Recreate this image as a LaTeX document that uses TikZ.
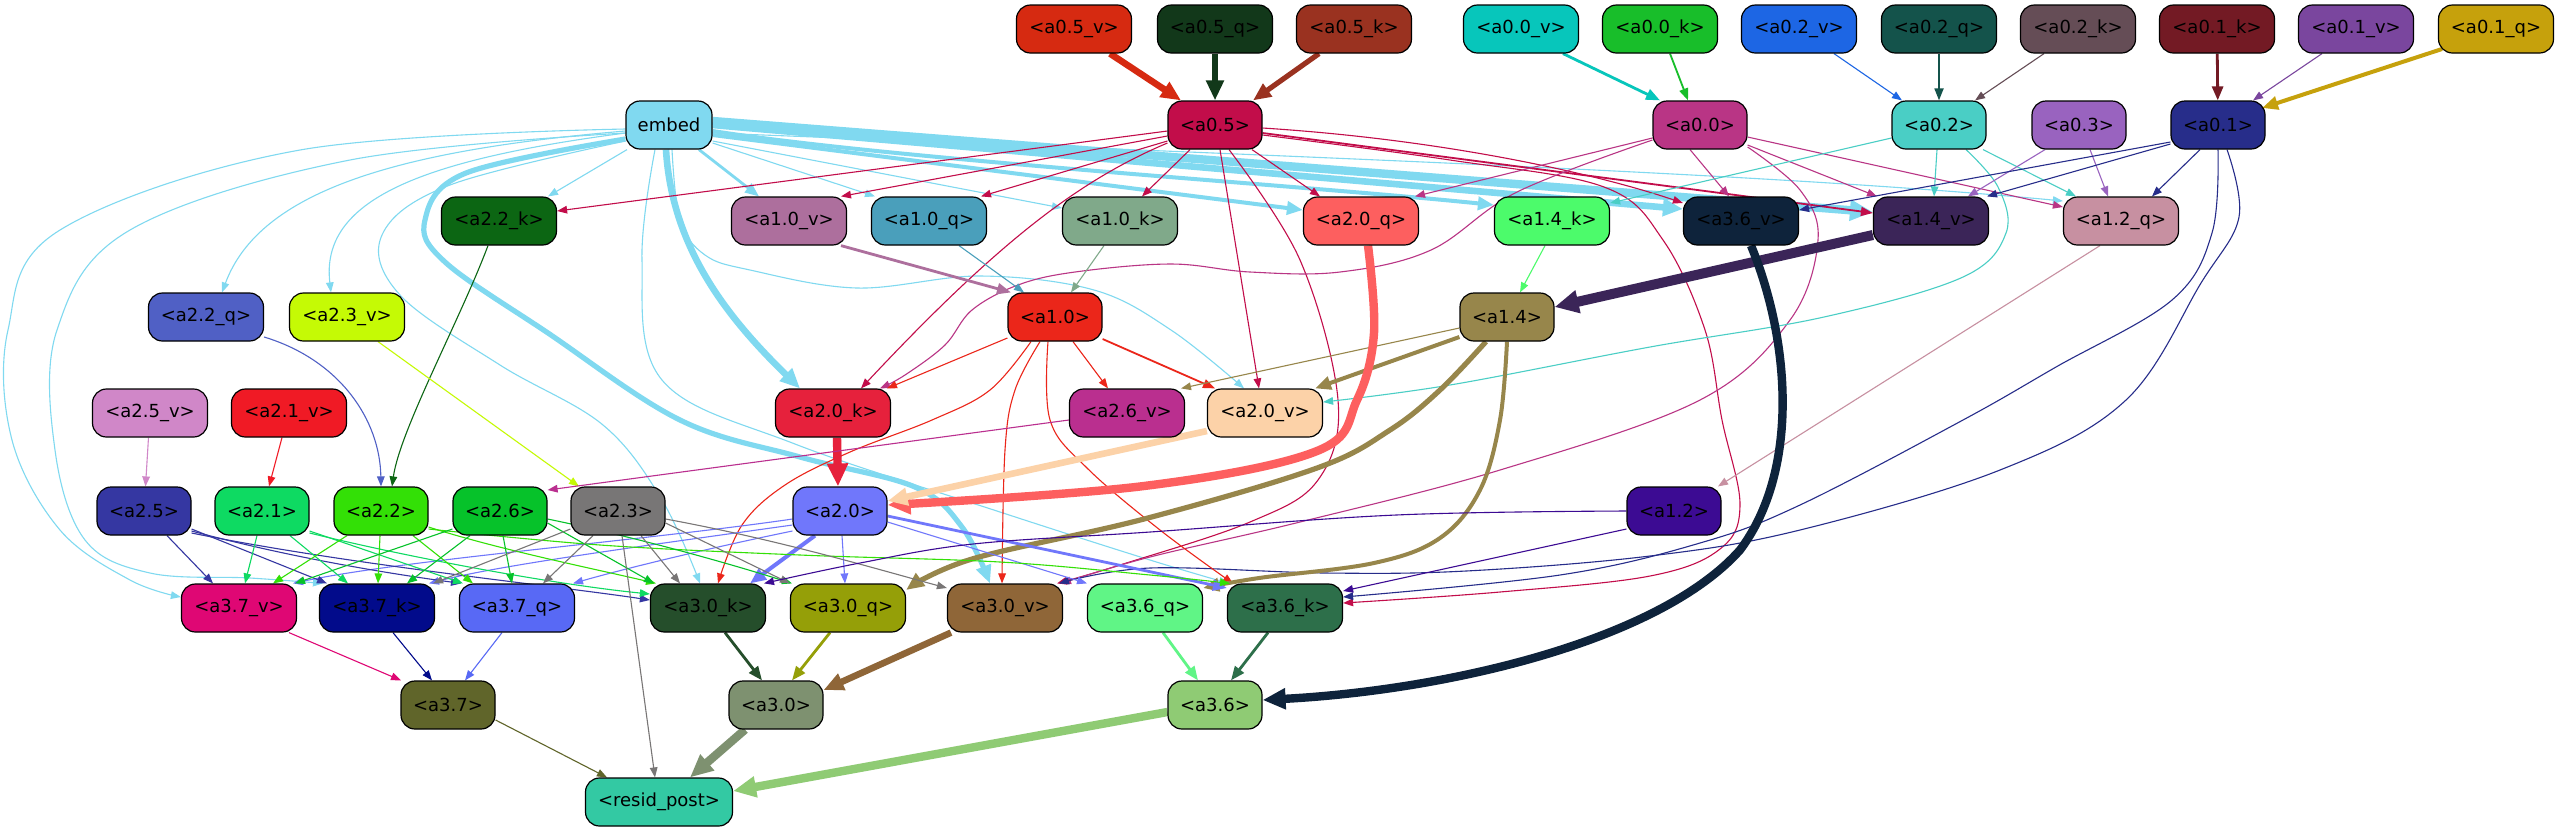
\documentclass[tikz,border=0pt]{standalone}
\usepackage{fontspec}
\setmainfont{DejaVu Sans}
\usetikzlibrary{arrows.meta,calc}
\pgfdeclarelayer{bg}
\pgfsetlayers{bg,main}
\definecolor{cemb}{HTML}{80D9F0}
\definecolor{c05v}{HTML}{D62A11}
\definecolor{c05q}{HTML}{12381A}
\definecolor{c05k}{HTML}{9A3220}
\definecolor{c00v}{HTML}{07C6BB}
\definecolor{c00k}{HTML}{18BE2A}
\definecolor{c02v}{HTML}{1D66E4}
\definecolor{c02q}{HTML}{14534B}
\definecolor{c02k}{HTML}{654D56}
\definecolor{c01k}{HTML}{731A24}
\definecolor{c01v}{HTML}{7A469E}
\definecolor{c01q}{HTML}{C6A10C}
\definecolor{c05}{HTML}{C20D4A}
\definecolor{c00}{HTML}{B93585}
\definecolor{c02}{HTML}{4ACEC5}
\definecolor{c03}{HTML}{9963BF}
\definecolor{c01}{HTML}{272D8A}
\definecolor{c22k}{HTML}{0C6613}
\definecolor{c10v}{HTML}{AD6F9D}
\definecolor{c10q}{HTML}{4A9FBB}
\definecolor{c10k}{HTML}{80A98A}
\definecolor{c20q}{HTML}{FD5F5F}
\definecolor{c14k}{HTML}{4CFB6B}
\definecolor{c36v}{HTML}{0E233B}
\definecolor{c14v}{HTML}{3B2558}
\definecolor{c12q}{HTML}{C790A1}
\definecolor{c22q}{HTML}{5060C5}
\definecolor{c23v}{HTML}{C5FA05}
\definecolor{c10}{HTML}{EB261A}
\definecolor{c14}{HTML}{97864B}
\definecolor{c25v}{HTML}{D087C8}
\definecolor{c21v}{HTML}{F01A25}
\definecolor{c20k}{HTML}{E6213C}
\definecolor{c26v}{HTML}{BA2F8F}
\definecolor{c20v}{HTML}{FCD2A8}
\definecolor{c25}{HTML}{3537A2}
\definecolor{c21}{HTML}{0EDA62}
\definecolor{c22}{HTML}{33E006}
\definecolor{c26}{HTML}{06C22A}
\definecolor{c23}{HTML}{787676}
\definecolor{c20}{HTML}{7077FB}
\definecolor{c12}{HTML}{3C0B93}
\definecolor{c37v}{HTML}{DF0774}
\definecolor{c37k}{HTML}{020B8B}
\definecolor{c37q}{HTML}{5869F5}
\definecolor{c30k}{HTML}{254E2B}
\definecolor{c30q}{HTML}{959F08}
\definecolor{c30v}{HTML}{8F6638}
\definecolor{c36q}{HTML}{60F586}
\definecolor{c36k}{HTML}{2D6F4A}
\definecolor{c37}{HTML}{60652A}
\definecolor{c30}{HTML}{7E9170}
\definecolor{c36}{HTML}{8FCB74}
\definecolor{cres}{HTML}{33C9A3}
\tikzset{
 box/.style={draw=black, line width=0.6pt, rounded corners=7pt, minimum height=24pt, inner sep=0pt, font=\fontsize{9}{11}\selectfont, text=black},
 bw/.style={box, minimum width=57.5pt},
 bn/.style={box, minimum width=47pt},
 ed/.style={draw=#1, line width=0.55pt, -{Triangle[length=5pt,width=3.8pt]}},
 sB/.style={line width=0.9pt, -{Triangle[length=6pt,width=4.5pt]}},
 sC/.style={line width=1.4pt, -{Triangle[length=7pt,width=5.5pt]}},
 sD/.style={line width=2pt, -{Triangle[length=8pt,width=6.5pt]}},
 sE/.style={line width=2.6pt, -{Triangle[length=9pt,width=7.5pt]}},
 sF/.style={line width=3.3pt, -{Triangle[length=10pt,width=8.5pt]}},
 sG/.style={line width=4.2pt, -{Triangle[length=11.5pt,width=10pt]}},
 pl/.style={smooth, tension=0.6}
}
\begin{document}
\begin{tikzpicture}[x=0.5pt,y=-0.5pt]
\useasboundingbox (0,0) rectangle (2559,827);
% nodes
\node[bw, fill=c05v] (a05v) at (1074,29) {<a0.5\_v>};
\node[bw, fill=c05q] (a05q) at (1215,29) {<a0.5\_q>};
\node[bw, fill=c05k] (a05k) at (1354,29) {<a0.5\_k>};
\node[bw, fill=c00v] (a00v) at (1521,29) {<a0.0\_v>};
\node[bw, fill=c00k] (a00k) at (1660,29) {<a0.0\_k>};
\node[bw, fill=c02v] (a02v) at (1799,29) {<a0.2\_v>};
\node[bw, fill=c02q] (a02q) at (1939,29) {<a0.2\_q>};
\node[bw, fill=c02k] (a02k) at (2078,29) {<a0.2\_k>};
\node[bw, fill=c01k] (a01k) at (2217,29) {<a0.1\_k>};
\node[bw, fill=c01v] (a01v) at (2356,29) {<a0.1\_v>};
\node[bw, fill=c01q] (a01q) at (2496,29) {<a0.1\_q>};
\node[box, minimum width=43pt, fill=cemb] (embed) at (669,125) {embed};
\node[bn, fill=c05] (a05) at (1215,125) {<a0.5>};
\node[bn, fill=c00] (a00) at (1700,125) {<a0.0>};
\node[bn, fill=c02] (a02) at (1939,125) {<a0.2>};
\node[bn, fill=c03] (a03) at (2079,125) {<a0.3>};
\node[bn, fill=c01] (a01) at (2218,125) {<a0.1>};
\node[bw, fill=c22k] (a22k) at (499,221) {<a2.2\_k>};
\node[bw, fill=c10v] (a10v) at (789,221) {<a1.0\_v>};
\node[bw, fill=c10q] (a10q) at (929,221) {<a1.0\_q>};
\node[bw, fill=c10k] (a10k) at (1120,221) {<a1.0\_k>};
\node[bw, fill=c20q] (a20q) at (1361,221) {<a2.0\_q>};
\node[bw, fill=c14k] (a14k) at (1552,221) {<a1.4\_k>};
\node[bw, fill=c36v] (a36v) at (1741,221) {<a3.6\_v>};
\node[bw, fill=c14v] (a14v) at (1931,221) {<a1.4\_v>};
\node[bw, fill=c12q] (a12q) at (2121,221) {<a1.2\_q>};
\node[bw, fill=c22q] (a22q) at (206,317) {<a2.2\_q>};
\node[bw, fill=c23v] (a23v) at (347,317) {<a2.3\_v>};
\node[bn, fill=c10] (a10) at (1055,317) {<a1.0>};
\node[bn, fill=c14] (a14) at (1507,317) {<a1.4>};
\node[bw, fill=c25v] (a25v) at (150,413) {<a2.5\_v>};
\node[bw, fill=c21v] (a21v) at (289,413) {<a2.1\_v>};
\node[bw, fill=c20k] (a20k) at (833,413) {<a2.0\_k>};
\node[bw, fill=c26v] (a26v) at (1127,413) {<a2.6\_v>};
\node[bw, fill=c20v] (a20v) at (1265,413) {<a2.0\_v>};
\node[bn, fill=c25] (a25) at (144,511) {<a2.5>};
\node[bn, fill=c21] (a21) at (262,511) {<a2.1>};
\node[bn, fill=c22] (a22) at (381,511) {<a2.2>};
\node[bn, fill=c26] (a26) at (500,511) {<a2.6>};
\node[bn, fill=c23] (a23) at (618,511) {<a2.3>};
\node[bn, fill=c20] (a20) at (840,511) {<a2.0>};
\node[bn, fill=c12] (a12) at (1674,511) {<a1.2>};
\node[bw, fill=c37v] (a37v) at (239,608) {<a3.7\_v>};
\node[bw, fill=c37k] (a37k) at (377,608) {<a3.7\_k>};
\node[bw, fill=c37q] (a37q) at (517,608) {<a3.7\_q>};
\node[bw, fill=c30k] (a30k) at (708,608) {<a3.0\_k>};
\node[bw, fill=c30q] (a30q) at (848,608) {<a3.0\_q>};
\node[bw, fill=c30v] (a30v) at (1005,608) {<a3.0\_v>};
\node[bw, fill=c36q] (a36q) at (1145,608) {<a3.6\_q>};
\node[bw, fill=c36k] (a36k) at (1285,608) {<a3.6\_k>};
\node[bn, fill=c37] (a37) at (448,705) {<a3.7>};
\node[bn, fill=c30] (a30) at (776,705) {<a3.0>};
\node[bn, fill=c36] (a36) at (1215,705) {<a3.6>};
\node[box, minimum width=73.5pt, fill=cres] (resid) at (659,802) {<resid\_post>};
\begin{pgfonlayer}{bg}
\fill[white] (0,0) rectangle (2559,827);
% top inputs
\draw[ed=c05v, sF] ([xshift=18pt]a05v.south) -- ([xshift=-17pt]a05.north);
\draw[ed=c05q, sF] (a05q) -- (a05);
\draw[ed=c05k, sE] ([xshift=-17.5pt]a05k.south) -- ([xshift=19pt]a05.north);
\draw[ed=c00v, sC] ([xshift=21pt]a00v.south) -- ([xshift=-20pt]a00.north);
\draw[ed=c00k, sB] ([xshift=5pt]a00k.south) -- ([xshift=-6pt]a00.north);
\draw[ed=c02v] ([xshift=17.5pt]a02v.south) -- ([xshift=-18.5pt]a02.north);
\draw[ed=c02q, sB] (a02q) -- (a02);
\draw[ed=c02k] ([xshift=-17pt]a02k.south) -- ([xshift=18pt]a02.north);
\draw[ed=c01k, sC] (a01k) -- (a01);
\draw[ed=c01v] ([xshift=-17pt]a01v.south) -- ([xshift=17.5pt]a01.north);
\draw[ed=c01q, sD] ([xshift=-27pt,yshift=-10pt]a01q.center) -- ([xshift=22pt,yshift=8.5pt]a01.center);
% embed
\draw[ed=cemb] ([xshift=-21pt]embed.south) -- ([xshift=24.5pt]a22k.north);
\draw[ed=cemb, sC] ([xshift=15pt]embed.south) -- ([xshift=-15pt]a10v.north);
\draw[ed=cemb] ([yshift=-9pt]embed.east) -- ([xshift=-27pt]a10q.north);
\draw[ed=cemb] ([yshift=-8pt]embed.east) -- ([yshift=6.5pt]a10k.west);
\draw[ed=cemb, sD] ([yshift=-5pt]embed.east) -- ([yshift=5.5pt]a20q.west);
\draw[ed=cemb, sD] ([yshift=-3pt]embed.east) .. controls (900,160) and (1300,185) .. ([yshift=8pt]a14k.west);
\draw[ed=cemb, sF] (embed.east) -- ([yshift=6pt]a36v.west);
\draw[ed=cemb, sG] ([yshift=2pt]embed.east) -- ([yshift=4.5pt]a14v.west);
\draw[ed=cemb] ([yshift=-4pt]embed.east) .. controls (1400,160) and (1800,176) .. ([yshift=10pt]a12q.west);
\draw[ed=cemb] ([yshift=-3pt]embed.west) .. controls (400,150) and (260,190) .. ([xshift=8pt]a22q.north);
\draw[ed=cemb] ([yshift=-4pt]embed.west) .. controls (420,160) and (320,200) .. ([xshift=-8pt]a23v.north);
\draw[ed=cemb, sF] ([xshift=-1.5pt]embed.south) .. controls (672,250) and (730,320) .. ([xshift=-16.5pt]a20k.north);
\draw[ed=cemb, sE] plot[pl] coordinates {([yshift=-7pt]embed.west) (466,173) (425,220) (445,262) (548,333) (680,420) (800,457) (915,487) (962,527) ([xshift=-7.5pt]a30v.north)};
\draw[ed=cemb] plot[pl] coordinates {([yshift=-2pt]embed.west) (300,150) (60,230) (8,330) (12,440) (60,530) (130,580) ([yshift=5.5pt]a37v.west)};
\draw[ed=cemb] plot[pl] coordinates {([yshift=-4pt]embed.west) (350,160) (130,230) (57,330) (55,450) (85,540) (150,573) (250,578) ([xshift=-27pt]a37k.north)};
\draw[ed=cemb] plot[pl] coordinates {([yshift=-8pt]embed.west) (450,185) (382,235) (400,295) (500,365) (603,425) (662,500) ([xshift=-4pt]a30k.north)};
\draw[ed=cemb] plot[pl] coordinates {([xshift=-7pt]embed.south) (642,260) (662,380) (795,444) (1000,512) (1150,560) ([xshift=-28pt]a36k.north)};
\draw[ed=cemb] plot[pl] coordinates {([xshift=1.5pt]embed.south) (680,220) (705,255) (750,270) (857,288) (980,276) (1094,290) (1171,330) ([xshift=-10.5pt]a20v.north)};
% a0.5
\draw[ed=c05] ([yshift=-3pt]a05.west) -- ([yshift=5pt]a22k.east);
\draw[ed=c05] ([yshift=-5.5pt]a05.west) -- ([xshift=26pt]a10v.north);
\draw[ed=c05] ([yshift=-8pt]a05.west) -- ([xshift=26pt]a10q.north);
\draw[ed=c05] ([xshift=-12.5pt]a05.south) -- ([xshift=11pt]a10k.north);
\draw[ed=c05] ([xshift=18.5pt]a05.south) -- ([xshift=-20.5pt]a20q.north);
\draw[ed=c05] ([yshift=-9pt]a05.west) .. controls (1080,180) and (1000,240) .. ([xshift=14pt]a20k.north);
\draw[ed=c05] ([xshift=2.5pt]a05.south) -- ([xshift=-3pt]a20v.north);
\draw[ed=c05] plot[pl] coordinates {([xshift=7pt]a05.south) (1300,260) (1338,400) (1318,480) (1250,522) (1120,565) ([xshift=26pt]a30v.north)};
\draw[ed=c05] ([yshift=-1.5pt]a05.east) .. controls (1450,140) and (1600,175) .. ([yshift=9pt]a36v.west);
\draw[ed=c05, sB] ([yshift=-4pt]a05.east) -- ([yshift=4pt]a14v.west);
\draw[ed=c05] plot[pl] coordinates {([yshift=-5pt]a05.east) (1450,160) (1604,187) (1663,240) (1705,330) (1722,420) (1740,505) (1720,549) (1650,576) (1500,592) ([yshift=2.5pt]a36k.east)};
% a0.0
\draw[ed=c00] ([xshift=-5pt]a00.south) -- ([xshift=-6pt]a36v.north);
\draw[ed=c00] ([yshift=-10pt]a00.east) -- ([xshift=-27pt]a14v.north);
\draw[ed=c00] ([yshift=-6pt]a00.east) -- ([yshift=7pt]a12q.west);
\draw[ed=c00] ([yshift=-6.5pt]a00.west) -- ([xshift=27pt]a20q.north);
\draw[ed=c00] plot[pl] coordinates {([yshift=-7.5pt]a00.west) (1517,192) (1431,250) (1340,272) (1250,272) (1171,264) (1075,272) (1018,285) (972,310) (945,345) (905,375) ([xshift=23.5pt]a20k.north)};
\draw[ed=c00] plot[pl] coordinates {([yshift=-11pt]a00.east) (1800,190) (1818,240) (1790,320) (1700,400) (1500,470) (1300,522) (1150,557) ([xshift=28pt]a30v.north)};
% a0.2
\draw[ed=c02] ([xshift=-1pt]a02.south) -- ([xshift=1.5pt]a14v.north);
\draw[ed=c02] ([xshift=22pt]a02.south) -- ([xshift=-22.5pt]a12q.north);
\draw[ed=c02] ([yshift=-6.5pt]a02.west) -- ([yshift=9pt]a14k.east);
\draw[ed=c02] plot[pl] coordinates {([xshift=13.5pt]a02.south) (1998,187) (2006,233) (1963,277) (1824,317) (1650,347) (1450,385) ([yshift=5.5pt]a20v.east)};
% a0.3
\draw[ed=c03] ([xshift=-17pt]a03.south) -- ([xshift=18.5pt]a14v.north);
\draw[ed=c03] ([xshift=5.5pt]a03.south) -- ([xshift=-6.5pt]a12q.north);
% a0.1
\draw[ed=c01] ([yshift=-8.5pt]a01.west) -- ([yshift=5.5pt]a36v.east);
\draw[ed=c01] ([yshift=-9.5pt]a01.west) -- ([xshift=28pt]a14v.north);
\draw[ed=c01] ([xshift=-9pt]a01.south) -- ([xshift=15.5pt]a12q.north);
\draw[ed=c01] plot[pl] coordinates {(a01.south) (2212,233) (2172,300) (2056,367) (1963,420) (1800,505) (1700,543) (1560,575) ([yshift=5.5pt]a36k.east)};
\draw[ed=c01] plot[pl] coordinates {([xshift=4.5pt]a01.south) (2239,217) (2201,283) (2126,400) (2000,470) (1800,530) (1650,556) (1466,571) (1325,573) (1150,568) ([xshift=27pt]a30v.north)};
% a1.0
\draw[ed=c10v, sC] ([xshift=26pt]a10v.south) -- ([xshift=-22pt]a10.north);
\draw[ed=c10q] ([xshift=15pt]a10q.south) -- ([xshift=-15.5pt]a10.north);
\draw[ed=c10k] ([xshift=-8pt]a10k.south) -- ([xshift=8pt]a10.north);
\draw[ed=c10] ([yshift=-10.5pt]a10.west) -- ([xshift=27pt]a20k.north);
\draw[ed=c10] ([xshift=9pt]a10.south) -- ([xshift=-9.5pt]a26v.north);
\draw[ed=c10, sB] ([yshift=-11pt]a10.east) -- ([xshift=-25pt]a20v.north);
\draw[ed=c10] plot[pl] coordinates {([xshift=-12pt]a10.south) (990,390) (932,420) (850,452) (785,485) (742,525) ([xshift=5pt]a30k.north)};
\draw[ed=c10] plot[pl] coordinates {([xshift=-7.5pt]a10.south) (1015,390) (1005,450) ([xshift=-1.5pt]a30v.north)};
\draw[ed=c10] plot[pl] coordinates {([xshift=-3.5pt]a10.south) (1050,420) (1087,468) (1160,530) ([xshift=-26pt]a36k.north)};
% a1.4
\draw[ed=c14v, line width=5pt, -{Triangle[length=12pt,width=11pt]}] ([yshift=-7pt]a14v.west) -- ([yshift=5pt]a14.east);
\draw[ed=c14k] ([xshift=-3.5pt]a14k.south) -- ([xshift=6.5pt]a14.north);
\draw[ed=c14, sD] ([yshift=-10pt]a14.west) -- ([xshift=25pt]a20v.north);
\draw[ed=c14] ([yshift=-5.5pt]a14.west) -- ([xshift=27pt]a26v.north);
\draw[ed=c14, sE] plot[pl] coordinates {([xshift=-10.5pt]a14.south) (1440,390) (1390,430) (1317,468) (1144,519) (972,559) ([yshift=9pt]a30q.east)};
\draw[ed=c14, sD] plot[pl] coordinates {(a14.south) (1500,420) (1480,490) (1440,538) (1374,563) (1259,578) ([yshift=10pt]a36q.east)};
% a2.0
\draw[ed=c20q, sG] plot[pl] coordinates {([xshift=3.5pt]a20q.south) (1374,333) (1357,400) (1317,451) (1144,486) ([yshift=3pt]a20.east)};
\draw[ed=c20k, sG] ([xshift=2pt]a20k.south) -- ([xshift=-1pt]a20.north);
\draw[ed=c20v, sF] ([yshift=-9pt]a20v.west) -- ([yshift=5pt]a20.east);
\draw[ed=c20, sD] ([xshift=-12.5pt]a20.south) -- ([xshift=21pt]a30k.north);
\draw[ed=c20] ([xshift=1pt]a20.south) -- ([xshift=-1.5pt]a30q.north);
\draw[ed=c20] ([yshift=-5.5pt]a20.east) -- ([xshift=-29pt]a36q.north);
\draw[ed=c20, sC] ([yshift=-2.5pt]a20.east) -- ([yshift=10pt]a36k.west);
\draw[ed=c20] ([yshift=-4pt]a20.west) .. controls (650,540) and (400,560) .. ([xshift=27pt]a37v.north);
\draw[ed=c20] ([yshift=-7pt]a20.west) .. controls (650,545) and (500,565) .. ([xshift=26pt]a37k.north);
\draw[ed=c20] ([yshift=-10pt]a20.west) .. controls (700,550) and (620,570) .. ([xshift=28pt]a37q.north);
% a2.x
\draw[ed=c25] ([xshift=11.5pt]a25.south) -- ([xshift=-13pt]a37v.north);
\draw[ed=c25] ([yshift=-9pt]a25.east) -- ([xshift=-25pt]a37k.north);
\draw[ed=c25] ([yshift=-10pt]a25.east) .. controls (300,560) and (400,575) .. ([xshift=-28pt]a37q.north);
\draw[ed=c25] ([yshift=-11pt]a25.east) .. controls (350,565) and (550,585) .. ([yshift=4pt]a30k.west);
\draw[ed=c21] ([xshift=-2.5pt]a21.south) -- ([xshift=3pt]a37v.north);
\draw[ed=c21] ([xshift=14pt]a21.south) -- ([xshift=-14.5pt]a37k.north);
\draw[ed=c21] ([yshift=-10pt]a21.east) -- ([xshift=-27pt]a37q.north);
\draw[ed=c21] ([yshift=-11pt]a21.east) .. controls (420,560) and (560,585) .. ([yshift=7pt]a30k.west);
\draw[ed=c22] ([xshift=-17pt]a22.south) -- ([xshift=17pt]a37v.north);
\draw[ed=c22] ([xshift=-0.5pt]a22.south) -- ([xshift=0.5pt]a37k.north);
\draw[ed=c22] ([xshift=16pt]a22.south) -- ([xshift=-22pt]a37q.north);
\draw[ed=c22] ([yshift=-8pt]a22.east) .. controls (500,550) and (600,570) .. ([xshift=-26pt]a30k.north);
\draw[ed=c22] plot[pl] coordinates {([yshift=-9pt]a22.east) (600,545) (800,555) (1000,562) (1150,575) ([xshift=-27.5pt]a36k.north)};
\draw[ed=c26] ([yshift=-9pt]a26.west) -- ([xshift=28pt]a37v.north);
\draw[ed=c26] ([xshift=-15pt]a26.south) -- ([xshift=15pt]a37k.north);
\draw[ed=c26] ([xshift=1.5pt]a26.south) -- ([xshift=-2.5pt]a37q.north);
\draw[ed=c26] ([yshift=-6pt]a26.east) -- ([xshift=-27pt]a30k.north);
\draw[ed=c26] ([yshift=-4pt]a26.east) .. controls (650,540) and (750,570) .. ([xshift=-28pt]a30q.north);
\draw[ed=c23] ([yshift=-9pt]a23.west) -- ([xshift=28pt]a37k.north);
\draw[ed=c23] ([xshift=-12.5pt]a23.south) -- ([xshift=13pt]a37q.north);
\draw[ed=c23] ([xshift=11.5pt]a23.south) -- ([xshift=-14pt]a30k.north);
\draw[ed=c23] ([yshift=-6pt]a23.east) -- ([xshift=-29pt]a30q.north);
\draw[ed=c23] ([yshift=-4pt]a23.east) .. controls (780,540) and (880,570) .. ([yshift=10pt]a30v.west);
\draw[ed=c23] ([xshift=2pt]a23.south) -- ([xshift=-2pt]resid.north);
% a1.2
\draw[ed=c12q] ([xshift=-10.5pt]a12q.south) -- ([xshift=22pt]a12.north);
\draw[ed=c12] plot[pl] coordinates {(a12.west) (1396,515) (1150,532) (973,544) (860,563) ([xshift=28pt]a30k.north)};
\draw[ed=c12] ([yshift=-9pt]a12.west) -- ([yshift=8.5pt]a36k.east);
% lower inputs
\draw[ed=c25v] (a25v) -- (a25);
\draw[ed=c21v] ([xshift=-3.5pt]a21v.south) -- ([xshift=3.5pt]a21.north);
\draw[ed=c22q] ([yshift=-10pt]a22q.east) .. controls (340,360) and (380,420) .. (a22.north);
\draw[ed=c22k] ([xshift=-5.5pt]a22k.south) .. controls (460,320) and (400,430) .. ([xshift=5.5pt]a22.north);
\draw[ed=c23v] ([xshift=15.5pt]a23v.south) -- ([xshift=-19.5pt]a23.north);
\draw[ed=c26v] ([yshift=-3.5pt]a26v.west) -- ([yshift=10.5pt]a26.east);
% final
\draw[ed=c37v] ([xshift=25pt]a37v.south) -- ([xshift=-23.5pt]a37.north);
\draw[ed=c37k] ([xshift=8pt]a37k.south) -- ([xshift=-8pt]a37.north);
\draw[ed=c37q] ([xshift=-7.5pt]a37q.south) -- ([xshift=8.5pt]a37.north);
\draw[ed=c30k, sC] ([xshift=8.5pt]a30k.south) -- ([xshift=-7pt]a30.north);
\draw[ed=c30q, sC] ([xshift=-9pt]a30q.south) -- ([xshift=8pt]a30.north);
\draw[ed=c30v, sF] ([xshift=-27pt]a30v.south) -- ([yshift=7.5pt]a30.east);
\draw[ed=c36q, sC] ([xshift=9pt]a36q.south) -- ([xshift=-8.5pt]a36.north);
\draw[ed=c36k, sC] ([xshift=-8.5pt]a36k.south) -- ([xshift=8pt]a36.north);
\draw[ed=c36v, sG] ([xshift=5pt]a36v.south) .. controls (1790,340) and (1800,470) .. (1740,550) .. controls (1660,640) and (1450,690) .. ([yshift=2.5pt]a36.east);
\draw[ed=c37] ([yshift=-7.5pt]a37.east) -- ([xshift=-26pt]resid.north);
\draw[ed=c30, sG] ([xshift=-15.5pt]a30.south) -- ([xshift=15.5pt]resid.north);
\draw[ed=c36, sG] ([yshift=-3.5pt]a36.west) -- ([yshift=5.5pt]resid.east);
\end{pgfonlayer}
\end{tikzpicture}
\end{document}
